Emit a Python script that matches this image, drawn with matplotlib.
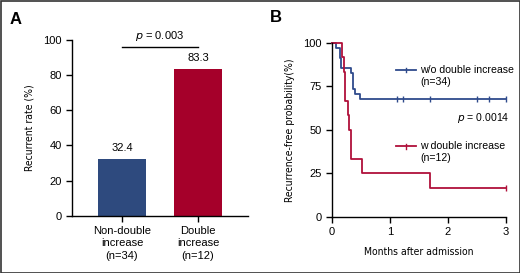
import matplotlib
matplotlib.use("Agg")
import matplotlib.pyplot as plt
from matplotlib.patches import Rectangle
from matplotlib import font_manager as fm

names = {f.name for f in fm.fontManager.ttflist}
main_font = "Liberation Sans" if "Liberation Sans" in names else "DejaVu Sans"
narrow_font = "Liberation Sans Narrow" if "Liberation Sans Narrow" in names else None
# find a condensed face if present
cond = None
for f in fm.fontManager.ttflist:
    if f.name == "DejaVu Sans" and str(f.stretch) in ("condensed", "semi-condensed") and f.style == "normal" and f.weight in (400, "normal"):
        cond = f.fname
        break
if narrow_font:
    label_fp = fm.FontProperties(family=narrow_font, size=8)
elif cond:
    label_fp = fm.FontProperties(fname=cond, size=7.5)
else:
    label_fp = fm.FontProperties(family=main_font, size=7.2)
plt.rcParams['font.family'] = [main_font, 'DejaVu Sans']

# ---- data ----
bar_categories = ["Non-double\nincrease\n(n=34)", "Double\nincrease\n(n=12)"]
bar_values = [32.4, 83.3]
bar_pvalue = "0.003"

km_wo_times = [0.0, 0.07, 0.13, 0.16, 0.32, 0.36, 0.39, 0.48, 3.0]
km_wo_surv = [100, 97.1, 91.2, 85.3, 82.4, 73.5, 70.6, 67.6, 67.6]
km_wo_censor = [1.13, 1.22, 1.70, 2.51, 2.71, 3.0]

km_w_times = [0.0, 0.17, 0.20, 0.23, 0.28, 0.30, 0.33, 0.52, 1.70, 3.0]
km_w_surv = [100, 91.7, 83.3, 66.7, 58.3, 50.0, 33.3, 25.0, 16.7, 16.7]
km_w_censor = [3.0]

km_labels = ["w/o double increase\n(n=34)", "w double increase\n(n=12)"]
km_pvalue = "0.0014"

BLUE = "#2e4a7e"
RED = "#a5002a"
KM_BLUE = "#2f4b8c"
KM_RED = "#b0103a"

W, H = 520, 273
fig = plt.figure(figsize=(W/100, H/100), dpi=100)
fig.patches.append(Rectangle((0.5/W, 0.5/H), 1-1/W, 1-1/H, transform=fig.transFigure,
                             fill=False, edgecolor="#333333", lw=1.2))

def fx(px): return px / W
def fy(py): return 1 - py / H

tick_fs = 8
# ---- Panel A ----
axA = fig.add_axes([fx(72), fy(216), fx(248) - fx(72), fy(39.5) - fy(216)])
x = [0, 1]
axA.bar(x, bar_values, width=0.632, color=[BLUE, RED], edgecolor="none")
axA.set_xlim(-0.658, 1.658)
axA.set_ylim(0, 100)
axA.set_yticks([0, 20, 40, 60, 80, 100])
axA.set_xticks(x)
axA.set_xticklabels(bar_categories, fontsize=tick_fs, linespacing=1.3)
axA.tick_params(axis='y', labelsize=tick_fs, length=4, width=1)
axA.tick_params(axis='x', length=4, width=1, pad=3)
for s in ['top', 'right']:
    axA.spines[s].set_visible(False)
for s in ['left', 'bottom']:
    axA.spines[s].set_linewidth(1)
for xi, v in zip(x, bar_values):
    axA.text(xi, v + 3.5, f"{v}", ha='center', va='bottom', fontsize=tick_fs)
axA.plot([0, 1], [95.8, 95.8], color='black', lw=1, clip_on=False)
axA.text(0.5, 98.3, f"$p$ = {bar_pvalue}", ha='center', va='bottom', fontsize=tick_fs)
axA.set_ylabel("Recurrent rate (%)", fontproperties=label_fp, labelpad=6)
fig.text(fx(10), fy(19), "A", fontsize=12, fontweight='bold', ha='left', va='center')

# ---- Panel B ----
axB = fig.add_axes([fx(332), fy(216.7), fx(505.7) - fx(332), fy(42.7) - fy(216.7)])
axB.step(km_wo_times, km_wo_surv, where='post', color=KM_BLUE, lw=1.3, clip_on=False)
axB.step(km_w_times, km_w_surv, where='post', color=KM_RED, lw=1.3, clip_on=False)
axB.plot(km_wo_censor, [km_wo_surv[-1]] * len(km_wo_censor), linestyle='none', marker='|',
         markersize=5, mew=1, color=KM_BLUE, clip_on=False)
axB.plot(km_w_censor, [km_w_surv[-1]] * len(km_w_censor), linestyle='none', marker='|',
         markersize=5, mew=1, color=KM_RED, clip_on=False)
axB.set_xlim(0, 3)
axB.set_ylim(0, 100)
axB.set_xticks([0, 1, 2, 3])
axB.set_yticks([0, 25, 50, 75, 100])
axB.tick_params(labelsize=tick_fs, length=4, width=1)
for s in ['top', 'right']:
    axB.spines[s].set_visible(False)
for s in ['left', 'bottom']:
    axB.spines[s].set_linewidth(1)
axB.set_xlabel("Months after admission", fontproperties=label_fp, labelpad=7)
axB.set_ylabel("Recurrence-free probability(%)", fontproperties=label_fp, labelpad=6)

# legend entries
leg_fs = 7.6
for (yl, col, lab) in [(70, KM_BLUE, km_labels[0]), (146, KM_RED, km_labels[1])]:
    fig.add_artist(plt.Line2D([fx(396), fx(416)], [fy(yl), fy(yl)], color=col, lw=1.3,
                              transform=fig.transFigure))
    fig.add_artist(plt.Line2D([fx(406), fx(406)], [fy(yl - 2.5), fy(yl + 2.5)], color=col, lw=1,
                              transform=fig.transFigure))
    fig.text(fx(420), fy(yl + 6), lab, fontsize=leg_fs, ha='left', va='center', linespacing=1.35)
fig.text(fx(509), fy(118), f"$p$ = {km_pvalue}", fontsize=leg_fs, ha='right', va='center')
fig.text(fx(270), fy(18), "B", fontsize=12, fontweight='bold', ha='left', va='center')

fig.savefig("out.png", dpi=100)
